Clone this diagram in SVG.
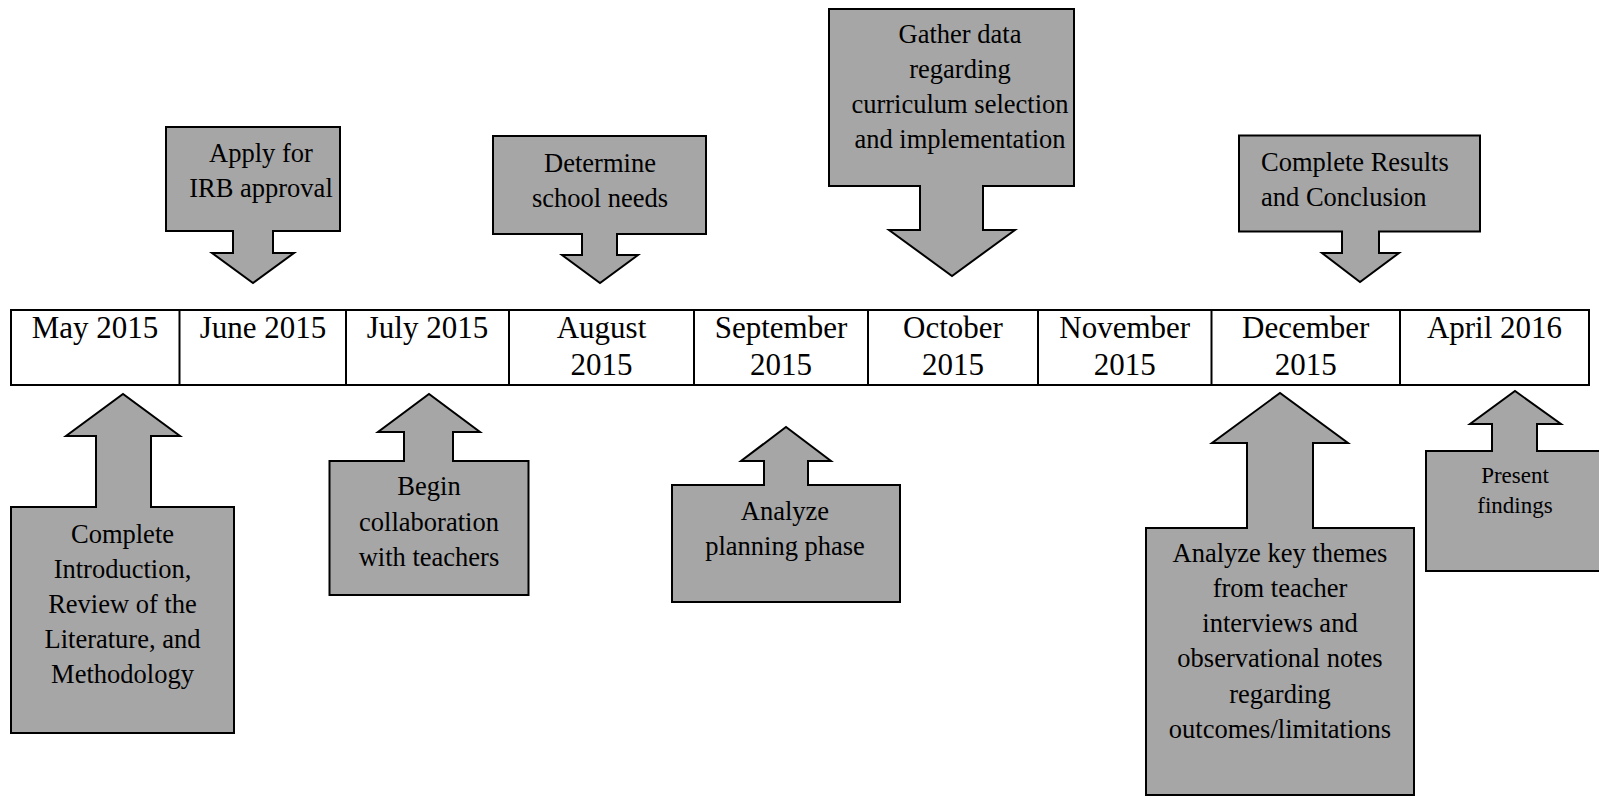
<svg xmlns="http://www.w3.org/2000/svg" width="1599" height="796" viewBox="0 0 1599 796">
<style>
.shape{fill:#a6a6a6;stroke:#000;stroke-width:2;stroke-linejoin:miter}
.tl{fill:#fff;stroke:#000;stroke-width:2}
.div{stroke:#000;stroke-width:2}
text{font-family:"Liberation Serif","Times New Roman",serif;fill:#000}
.m{font-size:31px;text-anchor:middle}
.b{font-size:26.5px;text-anchor:middle}
.bl{font-size:26.5px}
.s{font-size:23px;text-anchor:middle}
</style>
<rect width="1599" height="796" fill="#fff"/>
<g id="timeline">
<rect class="tl" x="11" y="310" width="1578" height="75"/>
<line class="div" x1="179.5" y1="310" x2="179.5" y2="385"/>
<line class="div" x1="346" y1="310" x2="346" y2="385"/>
<line class="div" x1="509" y1="310" x2="509" y2="385"/>
<line class="div" x1="694" y1="310" x2="694" y2="385"/>
<line class="div" x1="868" y1="310" x2="868" y2="385"/>
<line class="div" x1="1038" y1="310" x2="1038" y2="385"/>
<line class="div" x1="1211.5" y1="310" x2="1211.5" y2="385"/>
<line class="div" x1="1400" y1="310" x2="1400" y2="385"/>
<text class="m" x="95" y="338">May 2015</text>
<text class="m" x="263" y="338">June 2015</text>
<text class="m" x="427.5" y="338">July 2015</text>
<text class="m" x="601.5" y="338">August</text>
<text class="m" x="601.5" y="375">2015</text>
<text class="m" x="781" y="338">September</text>
<text class="m" x="781" y="375">2015</text>
<text class="m" x="953" y="338">October</text>
<text class="m" x="953" y="375">2015</text>
<text class="m" x="1124.75" y="338">November</text>
<text class="m" x="1124.75" y="375">2015</text>
<text class="m" x="1305.75" y="338">December</text>
<text class="m" x="1305.75" y="375">2015</text>
<text class="m" x="1494.5" y="338">April 2016</text>
</g>
<g id="connectors"></g>
<g id="apply-irb">
<path class="shape" d="M166 127 H340 V231 H273 V253 H294 L253 283 L212 253 H233 V231 H166 Z"/>
<text class="b" x="261" y="162">Apply for</text>
<text class="b" x="261" y="197">IRB approval</text>
</g>
<g id="determine-needs">
<path class="shape" d="M493 136 H706 V234 H617 V255 H638 L600 283 L562 255 H582 V234 H493 Z"/>
<text class="b" x="600" y="172">Determine</text>
<text class="b" x="600" y="207">school needs</text>
</g>
<g id="gather-data">
<path class="shape" d="M829 9 H1074 V186 H983 V230 H1015 L952 276 L889 230 H920 V186 H829 Z"/>
<text class="b" x="960" y="42.5">Gather data</text>
<text class="b" x="960" y="77.5">regarding</text>
<text class="b" x="960" y="112.5">curriculum selection</text>
<text class="b" x="960" y="147.5">and implementation</text>
</g>
<g id="complete-results">
<path class="shape" d="M1239 135.5 H1480 V231.5 H1379 V253 H1399 L1360 282 L1322 253 H1342 V231.5 H1239 Z"/>
<text class="bl" x="1261" y="171">Complete Results</text>
<text class="bl" x="1261" y="206">and Conclusion</text>
</g>
<g id="complete-intro">
<path class="shape" d="M11 733 V507 H96 V436 H66 L123 394 L180 436 H151 V507 H234 V733 Z"/>
<text class="b" x="122.5" y="543">Complete</text>
<text class="b" x="122.5" y="578">Introduction,</text>
<text class="b" x="122.5" y="613">Review of the</text>
<text class="b" x="122.5" y="648">Literature, and</text>
<text class="b" x="122.5" y="683">Methodology</text>
</g>
<g id="begin-collab">
<path class="shape" d="M329.5 595 V461 H404 V432 H378 L429 394 L480 432 H453 V461 H528.5 V595 Z"/>
<text class="b" x="429" y="495">Begin</text>
<text class="b" x="429" y="531">collaboration</text>
<text class="b" x="429" y="566">with teachers</text>
</g>
<g id="analyze-planning">
<path class="shape" d="M672 602 V485 H764 V461 H741 L786 427 L831 461 H808 V485 H900 V602 Z"/>
<text class="b" x="785" y="520">Analyze</text>
<text class="b" x="785" y="555">planning phase</text>
</g>
<g id="analyze-themes">
<path class="shape" d="M1146 795 V528 H1247 V443 H1212 L1280 393 L1348 443 H1313 V528 H1414 V795 Z"/>
<text class="b" x="1280" y="562">Analyze key themes</text>
<text class="b" x="1280" y="597">from teacher</text>
<text class="b" x="1280" y="632">interviews and</text>
<text class="b" x="1280" y="667">observational notes</text>
<text class="b" x="1280" y="703">regarding</text>
<text class="b" x="1280" y="738">outcomes/limitations</text>
</g>
<g id="present-findings">
<path class="shape" d="M1426 571 V451 H1492 V424 H1470 L1515 391 L1561 424 H1537 V451 H1601 V571 Z"/>
<text class="s" x="1515" y="483">Present</text>
<text class="s" x="1515" y="513">findings</text>
</g>
</svg>
